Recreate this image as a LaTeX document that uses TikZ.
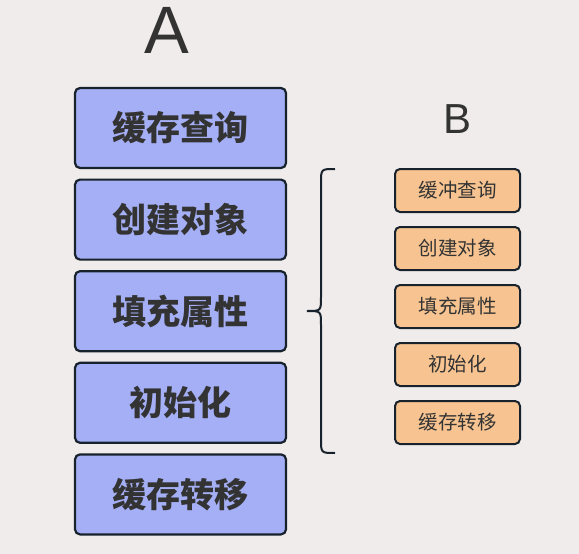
\documentclass[tikz,border=0pt]{standalone}
\usepackage{fontspec}
\setmainfont{Liberation Sans}
\newfontfamily\cjk{Noto Sans CJK SC}
\definecolor{bgc}{HTML}{F0ECEB}
\definecolor{bluebox}{HTML}{A5AFF5}
\definecolor{orangebox}{HTML}{F7C491}
\definecolor{edgec}{HTML}{18222C}
\definecolor{textc}{HTML}{333333}
\begin{document}
\begin{tikzpicture}[
    x=1pt, y=-1pt,
    bigbox/.style={rectangle, draw=edgec, line width=2.2pt, rounded corners=5pt, fill=bluebox, minimum width=211pt, minimum height=80pt, text=textc, font=\cjk\bfseries\fontsize{34}{36}\selectfont},
    smallbox/.style={rectangle, draw=edgec, line width=2pt, rounded corners=5pt, fill=orangebox, minimum width=125pt, minimum height=43pt, text=textc, font=\cjk\fontsize{19.5}{21}\selectfont},
    brace/.style={draw=edgec, line width=2pt}
  ]
    % Background
    \fill[bgc] (0,0) rectangle (579,554);

    % Titles
    \node[anchor=base, text=textc, font=\fontsize{67}{70}\selectfont] (labA) at (167,53) {A};
    \node[anchor=base, text=textc, font=\fontsize{42}{45}\selectfont] (labB) at (458,133) {B};

    % Left column
    \foreach \i/\t in {1/缓存查询, 2/创建对象, 3/填充属性, 4/初始化, 5/缓存转移} {
      \node[bigbox] (a\i) at (180.5, 128+91.6*\i-91.6) {\t};
    }

    % Right column
    \foreach \i/\t in {1/缓冲查询, 2/创建对象, 3/填充属性, 4/初始化, 5/缓存转移} {
      \node[smallbox] (b\i) at (457.5, 190.5+58*\i-58) {\t};
    }

    % Brace
    \draw[brace] (335,169) .. controls (321,169) .. (321,183) -- (321,297)
      .. controls (321,311) .. (307,311) .. controls (321,311) .. (321,325)
      -- (321,439) .. controls (321,453) .. (335,453);
  \end{tikzpicture}
\end{document}
